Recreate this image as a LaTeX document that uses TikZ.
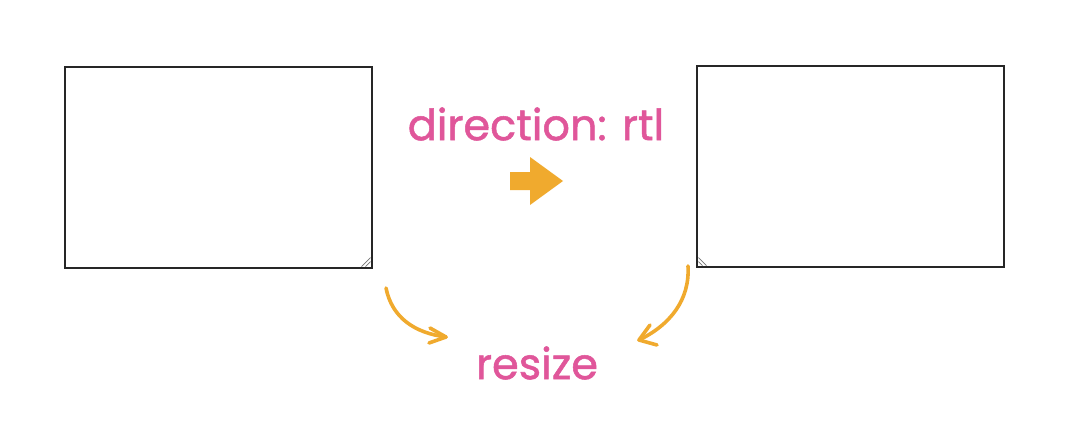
\documentclass[tikz,border=0pt]{standalone}
\usepackage{fontspec}
\setmainfont{Open Sans}
\newfontfamily\labelfont[FakeBold=1.2]{Poppins}
\definecolor{pinktxt}{HTML}{E0569A}
\definecolor{orangearr}{HTML}{F0AA2E}
\begin{document}
\begin{tikzpicture}[x=1pt,y=-1pt,
  winbox/.style={draw=black!85,line width=1.2pt,minimum width=307pt,minimum height=201pt,inner sep=0pt},
  label/.style={text=pinktxt,font=\labelfont\fontsize{43}{48}\selectfont,inner sep=0pt},
  curvearrow/.style={draw=orangearr,line width=3.6pt,line cap=round,line join=round},
  grip/.style={draw=black!55,line width=0.7pt}]
\useasboundingbox (0,0) rectangle (1080,434);
\fill[white] (0,0) rectangle (1080,434);
\node[winbox] (left) at (218.5,167.5) {};
\node[winbox] (right) at (850.5,166.5) {};
% resize grips
\draw[grip] ([xshift=-2pt,yshift=11pt]left.south east) -- ([xshift=-11pt,yshift=2pt]left.south east);
\draw[grip] ([xshift=-2pt,yshift=7pt]left.south east) -- ([xshift=-7pt,yshift=2pt]left.south east);
\draw[grip] ([xshift=2pt,yshift=10pt]right.south west) -- ([xshift=10pt,yshift=2pt]right.south west);
\draw[grip] ([xshift=2pt,yshift=6pt]right.south west) -- ([xshift=6pt,yshift=2pt]right.south west);
\node[label] (dir) at (536,124) {direction: rtl};
\node[label] (rs) at (537,363) {resize};
% block arrow
\coordinate (ba) at (536,181);
\fill[orangearr] ([shift={(-26,-9)}]ba) -- ([shift={(-6,-9)}]ba) -- ([shift={(-6,-24)}]ba) -- ([shift={(27,0)}]ba) -- ([shift={(-6,24)}]ba) -- ([shift={(-6,9)}]ba) -- ([shift={(-26,9)}]ba) -- cycle;
% curved arrows
\coordinate (l0) at (386,288);
\coordinate (l1) at (446,337);
\draw[curvearrow] (l0) .. controls (392,318) and (415,333) .. (l1);
\draw[curvearrow] ([shift={(-16,-9)}]l1) -- (l1) -- ([shift={(-17,6)}]l1);
\coordinate (r0) at (688,266);
\coordinate (r1) at (639,340);
\draw[curvearrow] (r0) .. controls (690,300) and (670,325) .. (r1);
\draw[curvearrow] ([shift={(11,-15)}]r1) -- (r1) -- ([shift={(18,5)}]r1);
\end{tikzpicture}
\end{document}
